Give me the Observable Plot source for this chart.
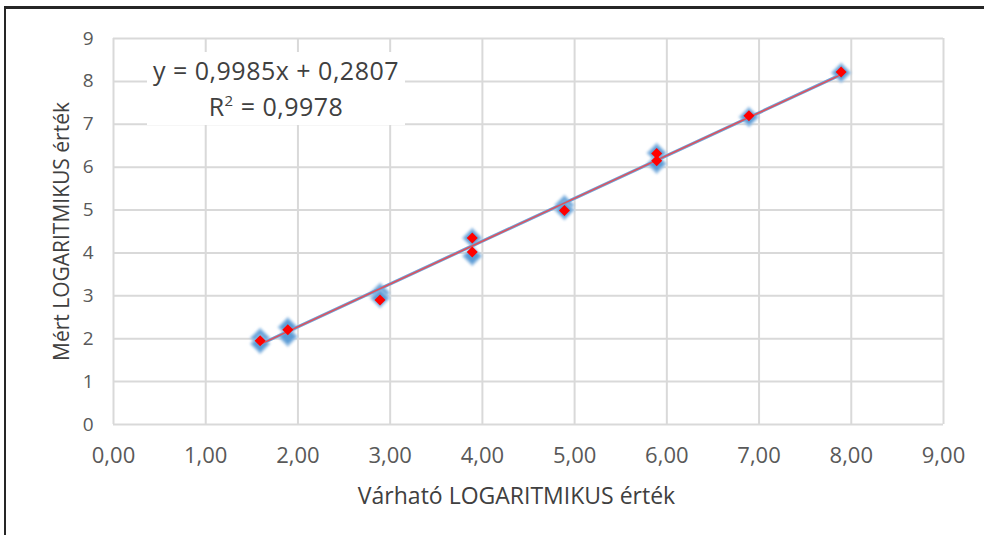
<!DOCTYPE html>
<html>
<head>
<meta charset="utf-8">
<script src="https://cdn.jsdelivr.net/npm/d3@7"></script>
<script src="https://cdn.jsdelivr.net/npm/@observablehq/plot@0.6"></script>
<style>
  html, body { margin: 0; padding: 0; background: #fff; }
  #wrap { position: relative; width: 984px; height: 535px; overflow: hidden; font-family: "Open Sans", sans-serif; }
  #border { position: absolute; left: 4px; top: 6px; width: 1000px; height: 560px; border-top: 3px solid #262626; border-left: 2px solid #262626; pointer-events: none; }
  #eq { position: absolute; left: 147px; top: 52px; width: 258px; height: 73px; background: #fff; color: #404040; font-size: 25px; line-height: 36px; text-align: center; letter-spacing: 0.5px; }
  #eq sup { font-size: 15px; vertical-align: 0; position: relative; top: -10px; }
</style>
</head>
<body>
<div id="wrap"></div>
<script>
// Data
const blueX = [1.59, 1.59, 1.89, 1.89, 2.89, 2.89, 3.89, 3.89, 4.89, 4.89, 5.89, 5.89, 6.89, 7.89];
const blueY = [2.02, 1.88, 2.27, 2.05, 3.07, 2.95, 4.35, 3.93, 5.12, 5.00, 6.33, 6.08, 7.17, 8.20];
const redX = [1.59, 1.89, 2.89, 3.89, 3.89, 4.89, 5.89, 5.89, 6.89, 7.89];
const redY = [1.95, 2.21, 2.90, 4.35, 4.02, 4.99, 6.32, 6.15, 7.20, 8.22];
const slope = 0.9985;
const intercept = 0.2807;
const trendX = [1.59, 7.89];
const xTicks = [0, 1, 2, 3, 4, 5, 6, 7, 8, 9];
const yTicks = [0, 1, 2, 3, 4, 5, 6, 7, 8, 9];
const xTitle = "Várható LOGARITMIKUS érték";
const yTitle = "Mért LOGARITMIKUS érték";
const eqLine1 = "y = 0,9985x + 0,2807";
const eqLine2 = "= 0,9978";

const blue = blueX.map((x, i) => ({x, y: blueY[i]}));
const red = redX.map((x, i) => ({x, y: redY[i]}));
const trend = trendX.map(x => ({x, y: slope * x + intercept}));

const squareDiamond = {
  draw(ctx, size) {
    const r = Math.sqrt(size / Math.PI);
    ctx.moveTo(0, -r); ctx.lineTo(r, 0); ctx.lineTo(0, r); ctx.lineTo(-r, 0); ctx.closePath();
  }
};

const fmtX = d => d.toFixed(2).replace(".", ",");

const chart = Plot.plot({
  width: 984,
  height: 535,
  marginLeft: 113,
  marginRight: 41,
  marginTop: 38,
  marginBottom: 111,
  style: {fontFamily: "Open Sans, sans-serif", background: "transparent", overflow: "visible"},
  x: {domain: [0, 9], ticks: xTicks, tickFormat: fmtX, label: null},
  y: {domain: [0, 9], ticks: yTicks, tickFormat: d => String(d), label: null},
  marks: [
    Plot.gridX(xTicks, {stroke: "#d9d9d9", strokeOpacity: 1, strokeWidth: 2}),
    Plot.gridY(yTicks, {stroke: "#d9d9d9", strokeOpacity: 1, strokeWidth: 2}),
    Plot.axisX(xTicks, {tickSize: 0, tickPadding: 23, fontSize: 22, fill: "#595959", tickFormat: fmtX, label: null}),
    Plot.axisY(yTicks, {tickSize: 0, tickPadding: 20, fontSize: 19, fill: "#595959", label: null}),
    Plot.dot(blue, {x: "x", y: "y", symbol: squareDiamond, r: 9, fill: "#5b9bd5", stroke: "#9dc3e6", strokeWidth: 2}),
    Plot.line(trend, {x: "x", y: "y", stroke: "#6fa3d8", strokeWidth: 3.2}),
    Plot.line(trend, {x: "x", y: "y", stroke: "#e0505a", strokeWidth: 1.5}),
    Plot.dot(red, {x: "x", y: "y", symbol: squareDiamond, r: 5.5, fill: "#ff0000", stroke: "none"}),
    Plot.text([xTitle], {frameAnchor: "bottom", dx: -12, dy: 79, fontSize: 23, fill: "#404040", text: d => d}),
    Plot.text([yTitle], {frameAnchor: "left", dx: -51, rotate: -90, textAnchor: "middle", fontSize: 21, fill: "#404040", text: d => d})
  ]
});

const wrap = document.getElementById("wrap");
wrap.appendChild(chart);
d3.select(chart).select('g[aria-label="dot"]').style("filter", "blur(0.8px)");

const eq = document.createElement("div");
eq.id = "eq";
const l1 = document.createElement("div");
l1.textContent = eqLine1;
const l2 = document.createElement("div");
l2.innerHTML = "R<sup>2</sup> " + eqLine2;
eq.appendChild(l1); eq.appendChild(l2);
wrap.appendChild(eq);

const border = document.createElement("div");
border.id = "border";
wrap.appendChild(border);
</script>
</body>
</html>
